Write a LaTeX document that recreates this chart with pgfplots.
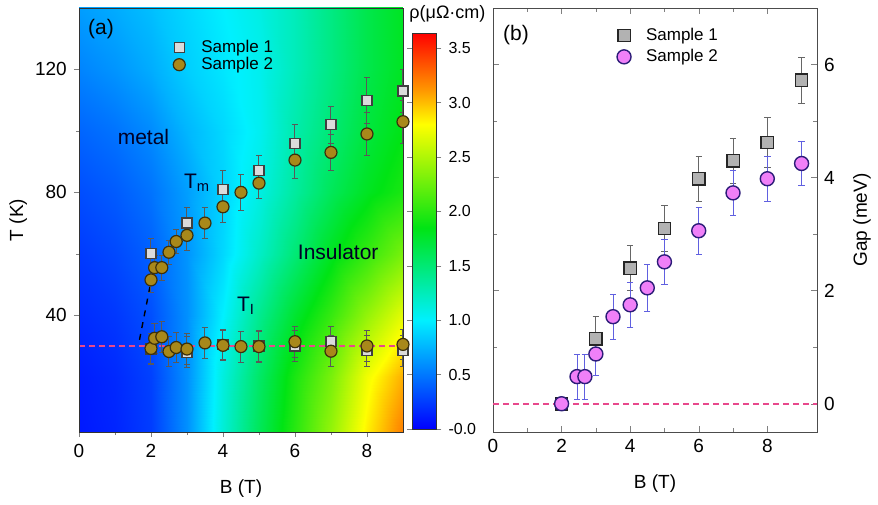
\documentclass[border=0pt]{standalone}
\usepackage{fontspec}
\setmainfont{Liberation Sans}
\usepackage{pgfplots}
\usepackage{pgfplotstable}
\pgfplotsset{compat=1.18}

\definecolor{pinkdash}{RGB}{232,72,140}
\definecolor{olivefill}{RGB}{168,136,26}
\definecolor{olivedraw}{RGB}{60,48,12}
\definecolor{violetfill}{RGB}{240,128,248}
\definecolor{violetdraw}{RGB}{44,28,120}
\definecolor{bluebar}{RGB}{96,96,224}

\pgfplotsset{
  /pgf/number format/assume math mode=true,
  every axis/.append style={
    scale only axis,
    tick label style={font=\fontsize{9.5}{11}\selectfont},
    label style={font=\fontsize{9.5}{11}\selectfont},
    axis line style={black!80},
  },
  markleg/.style={legend image code/.code={%
    \path[draw=none, fill=none] (-4pt,0pt) -- (9pt,0pt);
    \draw[##1] plot coordinates {(0pt,0pt)};}},
  colormap={rho}{rgb255(0)=(0,0,255); rgb255(100)=(0,240,255); rgb255(185)=(0,228,20);
    rgb255(280)=(255,255,0); rgb255(312)=(255,150,0); rgb255(364)=(255,0,0)},
}

% resistivity map: B (T), T (K), rho
\pgfplotstableread{
x y z
0 2 0.10
1 2 0.15
2 2 0.25
3 2 0.60
4 2 1.15
5 2 1.60
6 2 2.00
7 2 2.40
8 2 2.85
9 2 3.20
0 20 0.12
1 20 0.17
2 20 0.27
3 20 0.60
4 20 1.12
5 20 1.55
6 20 1.95
7 20 2.30
8 20 2.75
9 20 3.05
0 40 0.18
1 40 0.23
2 40 0.33
3 40 0.60
4 40 1.00
5 40 1.40
6 40 1.75
7 40 2.05
8 40 2.40
9 40 2.70
0 60 0.24
1 60 0.30
2 60 0.40
3 60 0.62
4 60 0.90
5 60 1.20
6 60 1.50
7 60 1.80
8 60 2.05
9 60 2.30
0 80 0.32
1 80 0.38
2 80 0.48
3 80 0.66
4 80 0.88
5 80 1.10
6 80 1.35
7 80 1.60
8 80 1.80
9 80 1.95
0 100 0.42
1 100 0.48
2 100 0.58
3 100 0.76
4 100 0.90
5 100 1.05
6 100 1.30
7 100 1.50
8 100 1.70
9 100 1.85
0 120 0.55
1 120 0.62
2 120 0.72
3 120 0.86
4 120 0.96
5 120 1.06
6 120 1.25
7 120 1.45
8 120 1.65
9 120 1.80
0 141 0.66
1 141 0.72
2 141 0.80
3 141 0.90
4 141 1.00
5 141 1.10
6 141 1.25
7 141 1.45
8 141 1.65
9 141 1.80
}\rhomap

% T_m and T_I, sample 1
\pgfplotstableread{
x y e
2 60 5
3 70 5
4 81 6
5 87 5
6 96 6
7 102 6
8 110 7.5
9 113 7
2 29 5
3 28 5
4 30.5 5
5 30 5
6 30 5
7 31.5 5
8 28.5 5
9 28.5 5
}\tempA

% T_m and T_I, sample 2
\pgfplotstableread{
x y e
2 51.5 4
2.1 55.5 4
2.3 55.5 4
2.5 60.5 4
2.7 64 4
3 66 5
3.5 70 5
4 75.3 5
4.5 80 6
5 83 5
6 90.5 6
7 93 6
8 99 7
9 103 7
2 29.2 5
2.1 32.5 5
2.3 33 5
2.5 28.2 5
2.7 29.5 5
3 29 5
3.5 31 5
4 30.2 5
4.5 29.8 5
5 29.8 5
6 31.4 5
7 28.3 5
8 30 5
9 30.5 5
}\tempB

% gap, sample 1
\pgfplotstableread{
x y e
2 0 0
3 1.15 0.39
4 2.4 0.4
5 3.1 0.4
6 3.98 0.4
7 4.3 0.4
8 4.62 0.44
9 5.72 0.4
}\gapA

% gap, sample 2
\pgfplotstableread{
x y e
2 0 0
2.45 0.48 0.4
2.68 0.48 0.4
3 0.88 0.38
3.5 1.54 0.4
4 1.75 0.4
4.5 2.05 0.42
5 2.51 0.4
6 3.06 0.41
7 3.73 0.4
8 3.98 0.4
9 4.25 0.39
}\gapB

\begin{document}
\begin{tikzpicture}
\useasboundingbox (0,0) rectangle (439pt,252pt);

% ---- panel (a)
\begin{axis}[
  at={(39.5pt,36pt)}, anchor=south west,
  width=162pt, height=212pt,
  xmin=0, xmax=9, ymin=2, ymax=140,
  xtick={0,2,4,6,8}, minor x tick num=1,
  ytick={40,80,120}, minor y tick num=1,
  tick pos=left, tick align=outside,
  major tick length=2.6pt, minor tick length=1.6pt,
  xlabel={B (T)}, ylabel={T (K)},
  xlabel style={yshift=-4pt},
  ylabel style={at={(axis description cs:-0.188,0.5)}, anchor=center},
  axis on top,
  point meta min=0, point meta max=3.64,
  colorbar right,
  colorbar style={
    at={(parent axis.north east)}, anchor=north west,
    xshift=-3.8pt, yshift=-12.5pt,
    width=12pt, height=198pt, scale only axis,
    ytick={0,0.5,1,1.5,2,2.5,3,3.5},
    yticklabels={-0.0,0.5,1.0,1.5,2.0,2.5,3.0,3.5},
    tick align=outside, major tick length=2.5pt,
    tick label style={font=\fontsize{8}{9}\selectfont},
  },
  legend style={at={(0.265,0.945)}, anchor=north west, draw=none, fill=none,
    font=\fontsize{8.5}{9.5}\selectfont, row sep=-3pt},
  legend cell align=left,
]
\addplot[surf, shader=interp, mesh/cols=10, point meta=explicit, forget plot]
  table[x=x, y=y, meta=z] {\rhomap};
\addplot[pinkdash, dashed, line width=0.8pt, dash pattern=on 3pt off 2pt, forget plot]
  coordinates {(0,30) (9,30)};
\addplot[black, dashed, line width=0.7pt, forget plot]
  coordinates {(1.68,32) (2.0,51)};
\addplot[only marks, markleg, mark=square*, mark size=2.5pt,
  mark options={fill=black!14, draw=black!75, line width=0.6pt},
  error bars/.cd, y dir=both, y explicit,
  error bar style={black!65, line width=0.5pt},
  error mark options={rotate=90, mark size=1.6pt, black!65}]
  table[x=x, y=y, y error=e] {\tempA};
\addlegendentry{Sample 1}
\addplot[only marks, markleg, mark=*, mark size=3pt,
  mark options={fill=olivefill, draw=olivedraw, line width=0.6pt},
  error bars/.cd, y dir=both, y explicit,
  error bar style={black!65, line width=0.5pt},
  error mark options={rotate=90, mark size=1.6pt, black!65}]
  table[x=x, y=y, y error=e] {\tempB};
\addlegendentry{Sample 2}
\node[font=\fontsize{10.5}{12}\selectfont] at (axis cs:0.61,133) {(a)};
\node[font=\fontsize{10.5}{12}\selectfont, text=black!85!blue] at (axis cs:1.79,98) {metal};
\node[font=\fontsize{10.5}{12}\selectfont, text=black!85!blue, anchor=west, inner sep=0pt] at (axis cs:2.91,83) {T\textsubscript{m}};
\node[font=\fontsize{10.5}{12}\selectfont, text=black!85!blue] at (axis cs:7.2,60.6) {Insulator};
\node[font=\fontsize{10.5}{12}\selectfont, text=black!85!blue, anchor=west, inner sep=0pt] at (axis cs:4.38,43) {T\textsubscript{I}};
\end{axis}

\node[anchor=west, inner sep=0pt, font=\fontsize{9}{10}\selectfont] at (204.5pt,245pt) {ρ(μΩ·cm)};

% ---- panel (b)
\begin{axis}[
  at={(246.5pt,36pt)}, anchor=south west,
  width=162pt, height=212pt,
  xmin=0, xmax=9.45, ymin=-0.5, ymax=7,
  xtick={0,2,4,6,8}, minor x tick num=1,
  ytick={0,2,4,6}, minor y tick num=1,
  xtick pos=both, ytick pos=both, yticklabel pos=right,
  tick align=inside,
  major tick length=3pt, minor tick length=1.8pt,
  axis line style={black!70},
  xlabel={B (T)}, ylabel={Gap (meV)},
  xlabel style={yshift=-4pt},
  ylabel style={at={(axis description cs:1.139,0.5)}, anchor=center},
  legend style={at={(0.36,0.973)}, anchor=north west, draw=none, fill=none,
    font=\fontsize{8.5}{9.5}\selectfont, row sep=-1pt},
  legend cell align=left,
]
\addplot[pinkdash, dashed, line width=0.8pt, dash pattern=on 3pt off 2pt, forget plot]
  coordinates {(0,0) (9.45,0)};
\addplot[only marks, markleg, mark=square*, mark size=3.1pt,
  mark options={fill=black!30, draw=black!85, line width=0.7pt},
  error bars/.cd, y dir=both, y explicit,
  error bar style={black!60, line width=0.5pt},
  error mark options={rotate=90, mark size=1.6pt, black!60}]
  table[x=x, y=y, y error=e] {\gapA};
\addlegendentry{Sample 1}
\addplot[only marks, markleg, mark=*, mark size=3.5pt,
  mark options={fill=violetfill, draw=violetdraw, line width=0.7pt},
  error bars/.cd, y dir=both, y explicit,
  error bar style={bluebar, line width=0.5pt},
  error mark options={rotate=90, mark size=1.6pt, bluebar}]
  table[x=x, y=y, y error=e] {\gapB};
\addlegendentry{Sample 2}
\node[font=\fontsize{10.5}{12}\selectfont] at (axis cs:0.67,6.53) {(b)};
\end{axis}
\end{tikzpicture}
\end{document}
